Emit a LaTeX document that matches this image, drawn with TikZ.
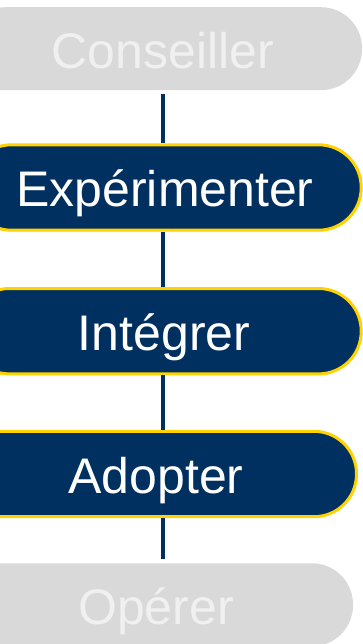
\documentclass[tikz,border=0pt]{standalone}
\usepackage{fontspec}
\setmainfont{Liberation Sans}
\definecolor{navy}{HTML}{00305F}
\definecolor{gold}{HTML}{FFD200}
\definecolor{greyfill}{HTML}{D9D9D9}
\definecolor{greytext}{HTML}{F0F0F0}
\tikzset{
  boxtext/.style={font=\fontsize{50}{60}\selectfont, text height=38.8pt, text depth=0pt, inner sep=0pt},
  greybox/.style={boxtext, fill=greyfill, text=greytext, draw=none, minimum height=83pt, rounded corners=41pt},
  activebox/.style={boxtext, fill=navy, text=white, draw=gold, line width=3pt, minimum height=85.4pt, rounded corners=42.5pt},
  spine/.style={draw=navy, line width=4pt}
}
\begin{document}
\begin{tikzpicture}[x=1pt,y=-1pt]
\path[clip] (0,0) rectangle (363,644);
\useasboundingbox (0,0) rectangle (363,644);
\fill[white] (0,0) rectangle (363,644);
\node[greybox, minimum width=398pt] (c) at (163,48.7) {Conseiller};
\node[activebox, minimum width=392.4pt] (e) at (165,187.5) {Expérimenter};
\node[activebox, minimum width=394.4pt] (i) at (164,331.2) {Intégrer};
\node[activebox, minimum width=401pt] (a) at (156,474) {Adopter};
\node[greybox, minimum width=394pt] (o) at (156,604.8) {Opérer};
\coordinate (s) at (163,0);
\draw[spine] ([yshift=-4pt]s |- c.south) -- (s |- e.north);
\draw[spine] (s |- e.south) -- (s |- i.north);
\draw[spine] (s |- i.south) -- (s |- a.north);
\draw[spine] (s |- a.south) -- ([yshift=4pt]s |- o.north);
\end{tikzpicture}
\end{document}
